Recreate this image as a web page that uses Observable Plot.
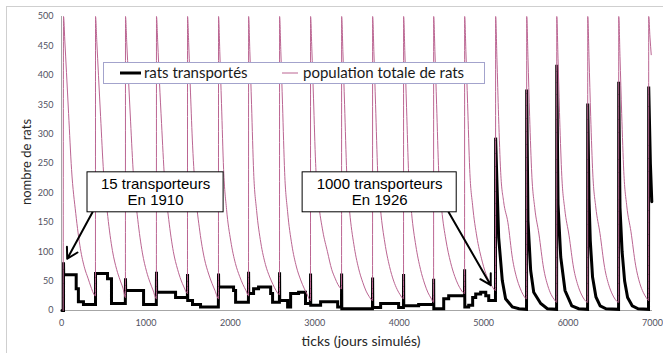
<!DOCTYPE html>
<html><head><meta charset="utf-8">
<script src="https://cdn.jsdelivr.net/npm/d3@7"></script>
<script src="https://cdn.jsdelivr.net/npm/@observablehq/plot@0.6"></script>
<style>body{margin:0;background:#fff;} svg{display:block}</style>
</head><body><div id="chart"></div>
<script>
// ---------- data ----------
const xTicks = [0, 1000, 2000, 3000, 4000, 5000, 6000, 7000];
const yTicks = [0, 50, 100, 150, 200, 250, 300, 350, 400, 450, 500];

// start days of each yearly population refill
const popStarts = [24, 403, 758, 1125, 1493, 1860, 2216, 2583, 2950, 3318, 3685, 4052, 4408, 4775, 5142, 5510, 5866, 6233, 6600, 6955];
// day offsets inside a cycle at which the population was read
const popOffsets = [0, 15, 35, 60, 95, 145, 200, 250, 290, 325];
// values at popOffsets, then the value just before the next refill
const popCycles = [
  [500, 460, 405, 335, 240, 165, 105, 72, 55, 40, 25],
  [500, 458, 400, 330, 235, 160, 102, 70, 52, 38, 22],
  [500, 455, 395, 322, 228, 155, 98, 66, 48, 35, 20],
  [500, 455, 390, 318, 225, 155, 100, 70, 52, 40, 29],
  [500, 448, 370, 280, 200, 135, 88, 62, 46, 34, 20],
  [500, 440, 352, 240, 172, 118, 80, 58, 44, 34, 25],
  [500, 440, 350, 235, 170, 115, 78, 57, 44, 34, 27],
  [500, 440, 350, 235, 168, 112, 74, 52, 38, 28, 17],
  [500, 445, 360, 250, 185, 135, 100, 70, 55, 44, 37],
  [500, 440, 350, 235, 168, 112, 72, 48, 33, 24, 17],
  [500, 440, 350, 235, 170, 115, 75, 50, 36, 27, 20],
  [500, 438, 345, 230, 165, 110, 70, 45, 30, 21, 14],
  [500, 440, 350, 235, 172, 120, 82, 58, 44, 35, 29],
  [500, 440, 352, 240, 178, 125, 88, 63, 50, 41, 34],
  [500, 430, 330, 235, 185, 150, 88, 55, 38, 27, 20],
  [500, 430, 330, 232, 175, 130, 72, 42, 27, 19, 14],
  [500, 428, 325, 228, 172, 128, 72, 43, 28, 19, 14],
  [500, 430, 330, 232, 176, 131, 73, 43, 28, 19, 14],
  [500, 432, 335, 236, 178, 134, 77, 46, 31, 22, 17]
];
const popLastOffsets = [0, 15, 30];
const popLast = [500, 465, 435];

// rats transportés (vertices of the line)
const ratsT = [5, 24, 24, 26, 174, 174, 200, 200, 260, 260, 403, 403, 545, 545, 592, 592, 756, 758, 760, 972, 972, 1123, 1125, 1127, 1351, 1351, 1491, 1493, 1495, 1552, 1552, 1647, 1647, 1858, 1860, 1862, 2038, 2038, 2062, 2062, 2214, 2216, 2218, 2275, 2275, 2334, 2334, 2477, 2477, 2500, 2500, 2581, 2583, 2585, 2678, 2678, 2714, 2714, 2808, 2808, 2890, 2890, 2948, 2950, 2952, 3069, 3069, 3271, 3271, 3316, 3318, 3320, 3683, 3685, 3687, 3780, 3780, 3993, 3993, 4050, 4052, 4054, 4230, 4230, 4406, 4408, 4410, 4527, 4527, 4586, 4586, 4773, 4775, 4777, 4823, 4823, 4870, 4870, 4906, 4906, 4965, 4965, 5025, 5025, 5060, 5060, 5140,
  5142, 5157, 5178, 5221, 5260, 5340, 5420, 5508,
  5510, 5525, 5557, 5593, 5676, 5755, 5864,
  5866, 5881, 5913, 5964, 6044, 6126, 6231,
  6233, 6248, 6263, 6290, 6330, 6380, 6450, 6598,
  6600, 6615, 6640, 6670, 6705, 6760, 6830, 6953,
  6955, 6975, 6992];
const ratsV = [0, 0, 82, 61, 61, 37, 37, 15, 15, 10, 10, 63, 63, 54, 54, 12, 12, 55, 34, 34, 10, 10, 66, 31, 31, 22, 22, 62, 17, 17, 10, 10, 6, 6, 63, 40, 40, 34, 34, 14, 14, 66, 29, 29, 37, 37, 40, 40, 29, 29, 14, 14, 65, 17, 17, 6, 6, 29, 29, 31, 31, 12, 12, 63, 9, 9, 15, 15, 6, 6, 63, 3, 3, 56, 5, 5, 12, 12, 5, 5, 62, 8, 8, 10, 10, 54, 3, 3, 20, 20, 25, 25, 70, 6, 6, 9, 9, 22, 22, 28, 28, 31, 31, 25, 25, 17, 17,
  294, 220, 124, 51, 20, 6, 3, 2,
  376, 153, 68, 31, 12, 3, 2,
  418, 181, 91, 34, 8, 3, 2,
  352, 190, 119, 57, 23, 8, 3, 2,
  389, 175, 100, 50, 22, 8, 3, 2,
  381, 250, 185];

// annotations (data units)
const noteText = ["15 transporteurs\nEn 1910", "1000 transporteurs\nEn 1926"];
const noteX1 = [308, 2856];
const noteX2 = [1920, 4681];
const noteY1 = [167, 167];
const noteY2 = [235, 235];
const noteCx = [1114, 3768];
const noteCy = [201, 201];
const arrowFromX = [367, 4586];
const arrowFromY = [167, 167];
const arrowToX = [68, 5084];
const arrowToY = [88, 43];

const seriesNames = ["rats transportés", "population totale de rats"];
const xTitle = "ticks (jours simulés)";
const yTitle = "nombre de rats";

// ---------- build tables ----------
const pop = [{t: 20, v: 0}];
popCycles.forEach((vals, i) => {
  const s = popStarts[i];
  popOffsets.forEach((o, j) => pop.push({t: s + o, v: vals[j]}));
  pop.push({t: popStarts[i + 1] - 1, v: vals[vals.length - 1]});
});
popLastOffsets.forEach((o, j) => pop.push({t: popStarts[popStarts.length - 1] + o, v: popLast[j]}));
const rats = ratsT.map((t, i) => ({t, v: ratsV[i]}));
const notes = noteText.map((text, i) => ({text, x1: noteX1[i], x2: noteX2[i], y1: noteY1[i], y2: noteY2[i], cx: noteCx[i], cy: noteCy[i],
  ax1: arrowFromX[i], ay1: arrowFromY[i], ax2: arrowToX[i], ay2: arrowToY[i]}));

const BLACK = "#000000", PINK = "#bb6592";

const chart = Plot.plot({
  width: 663, height: 353,
  marginLeft: 61, marginRight: 11, marginTop: 16, marginBottom: 43,
  style: {fontFamily: "Lato, sans-serif", fontSize: "9px", color: "#505060", background: "#fff"},
  x: {domain: [0, 7000], ticks: xTicks, tickSize: 0, tickPadding: 9, label: null, tickFormat: d => String(d)},
  y: {domain: [0, 500], ticks: yTicks, tickSize: 0, tickPadding: 8, label: null, tickFormat: d => String(d)},
  marks: [
    Plot.ruleY([0], {stroke: "#a6a6a6", strokeWidth: 1}),
    Plot.ruleX([0], {stroke: "#a6a6a6", strokeWidth: 1}),
    Plot.line(rats, {x: "t", y: "v", stroke: BLACK, strokeWidth: 3, strokeLinejoin: "miter", strokeMiterlimit: 2}),
    Plot.line(pop, {x: "t", y: "v", stroke: PINK, strokeWidth: 1, curve: "monotone-x"}),
    Plot.arrow(notes, {x1: "ax1", y1: "ay1", x2: "ax2", y2: "ay2", stroke: "#000", strokeWidth: 2, headLength: 9}),
    Plot.rect(notes, {x1: "x1", x2: "x2", y1: "y1", y2: "y2", fill: "#fff", stroke: "#000", strokeWidth: 1}),
    Plot.text(notes, {x: "cx", y: "cy", text: "text", fill: "#000", fontSize: 15, fontFamily: "'Liberation Sans', Arial, sans-serif", lineHeight: 1.05, lineAnchor: "middle"})
  ]
});

const svg = d3.select(chart);
// outer chart border
svg.insert("rect", ":first-child").attr("x", 6.5).attr("y", 6.5).attr("width", 700).attr("height", 400)
  .attr("fill", "none").attr("stroke", "#cfcfcf");
// legend
const lg = svg.append("g").attr("text-anchor", "start");
lg.append("rect").attr("x", 103.5).attr("y", 62.5).attr("width", 381).attr("height", 21)
  .attr("fill", "#fff").attr("stroke", "#a3a3cc");
lg.append("line").attr("x1", 120).attr("x2", 141).attr("y1", 73).attr("y2", 73).attr("stroke", BLACK).attr("stroke-width", 3);
lg.append("text").attr("x", 144).attr("y", 78).attr("text-anchor", "start").text(seriesNames[0])
  .attr("font-family", "Lato, sans-serif").attr("font-size", 15).attr("fill", "#1a1a1a");
lg.append("line").attr("x1", 282).attr("x2", 298).attr("y1", 73).attr("y2", 73).attr("stroke", PINK).attr("stroke-width", 1);
lg.append("text").attr("x", 303).attr("y", 78).attr("text-anchor", "start").text(seriesNames[1])
  .attr("font-family", "Lato, sans-serif").attr("font-size", 15).attr("fill", "#1a1a1a");
// axis titles
svg.append("text").attr("x", 361).attr("y", 346).attr("text-anchor", "middle").text(xTitle)
  .attr("font-family", "Lato, sans-serif").attr("font-size", 14).attr("fill", "#262626");
svg.append("text").attr("transform", "translate(31,162) rotate(-90)").attr("text-anchor", "middle").text(yTitle)
  .attr("font-family", "Lato, sans-serif").attr("font-size", 13).attr("fill", "#262626");

document.getElementById("chart").appendChild(chart);
</script>
</body></html>
